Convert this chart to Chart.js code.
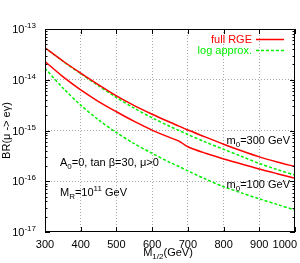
<!DOCTYPE html>
<html>
<head>
<meta charset="utf-8">
<script src="https://cdn.jsdelivr.net/npm/chart.js@4/dist/chart.umd.min.js"></script>
<style>
  html, body { margin: 0; padding: 0; background: #fff; }
  canvas { display: block; }
</style>
</head>
<body>
<canvas id="chart" width="300" height="263"></canvas>
<script>
// x축 값 (M_1/2, GeV)
const mHalf = [300, 350, 400, 450, 500, 550, 600, 650, 675, 700, 750, 800, 850, 900, 950, 1000];

// m0=300 GeV
const full300 = [4.27e-14, 2.34e-14, 1.35e-14, 7.94e-15, 4.79e-15, 3.09e-15, 2.09e-15, 1.45e-15, 1.22e-15, 1.02e-15, 7.41e-16, 5.37e-16, 3.98e-16, 3.02e-16, 2.4e-16, 1.95e-16];
const log300  = [4.27e-14, 2.32e-14, 1.32e-14, 7.59e-15, 4.47e-15, 2.75e-15, 1.78e-15, 1.2e-15, 1.0e-15, 8.32e-16, 5.89e-16, 4.27e-16, 3.09e-16, 2.24e-16, 1.7e-16, 1.32e-16];

// m0=100 GeV
const full100 = [2.29e-14, 1.15e-14, 6.31e-15, 3.72e-15, 2.34e-15, 1.51e-15, 1.02e-15, 7.24e-16, 6.17e-16, 4.79e-16, 3.55e-16, 2.75e-16, 2.19e-16, 1.74e-16, 1.41e-16, 1.15e-16];
const log100  = [1.68e-14, 6.9e-15, 3.16e-15, 1.62e-15, 9.1e-16, 5.5e-16, 3.55e-16, 2.34e-16, 1.95e-16, 1.6e-16, 1.1e-16, 7.8e-17, 5.9e-17, 4.5e-17, 3.5e-17, 2.7e-17];

// 눈금
const xTicks = [300, 400, 500, 600, 700, 800, 900, 1000];
const yTicks = [1e-17, 1e-16, 1e-15, 1e-14, 1e-13];
const yExp = [-17, -16, -15, -14, -13];

const RED = '#ff0000';
const GREEN = '#00f000';
const FONT = 'Liberation Sans, Arial, sans-serif';

const toXY = function(arr) {
    return arr.map(function(v, i) { return {x: mHalf[i], y: v}; });
};

// 첨자 포함 텍스트
const drawRich = function(ctx, parts, x, y, align) {
    let w = 0;
    parts.forEach(function(p) {
        ctx.font = (p.s ? 8 : 11) + 'px ' + FONT;
        p.w = ctx.measureText(p.t).width;
        w += p.w;
    });
    let cx = align === 'right' ? x - w : (align === 'center' ? x - w / 2 : x);
    ctx.textAlign = 'left';
    ctx.textBaseline = 'alphabetic';
    parts.forEach(function(p) {
        ctx.font = (p.s ? 8 : 11) + 'px ' + FONT;
        let dy = p.s === 'sub' ? 3 : (p.s === 'sup' ? -5 : 0);
        ctx.fillText(p.t, cx, y + dy);
        cx += p.w;
    });
    return w;
};

const framePlugin = {
    id: 'frame',
    afterDraw: function(chart) {
        const ctx = chart.ctx;
        const a = chart.chartArea;
        const xs = chart.scales.x;
        const ys = chart.scales.y;
        ctx.save();
        ctx.strokeStyle = '#000';
        ctx.fillStyle = '#000';
        ctx.lineWidth = 1;
        ctx.setLineDash([]);

        // 테두리
        ctx.strokeRect(Math.round(a.left) + 0.5, Math.round(a.top) + 0.5,
            Math.round(a.right - a.left) - 1, Math.round(a.bottom - a.top) - 1);

        // 안쪽 눈금
        ctx.beginPath();
        xTicks.forEach(function(v) {
            const px = Math.round(xs.getPixelForValue(v)) + 0.5;
            ctx.moveTo(px, a.bottom); ctx.lineTo(px, a.bottom - 5);
            ctx.moveTo(px, a.top); ctx.lineTo(px, a.top + 5);
        });
        yExp.forEach(function(e, k) {
            for (let m = 1; m <= 9; m++) {
                if (m > 1 && k === yExp.length - 1) break;
                const py = Math.round(ys.getPixelForValue(m * Math.pow(10, e))) + 0.5;
                const len = m === 1 ? 5 : 2.5;
                ctx.moveTo(a.left, py); ctx.lineTo(a.left + len, py);
                ctx.moveTo(a.right, py); ctx.lineTo(a.right - len, py);
            }
        });
        ctx.stroke();

        // x 눈금 라벨
        ctx.font = '11px ' + FONT;
        ctx.textBaseline = 'alphabetic';
        xTicks.forEach(function(v) {
            const t = String(v);
            const w = ctx.measureText(t).width;
            let px = xs.getPixelForValue(v) - w / 2;
            if (px + w > chart.width - 3) px = chart.width - 3 - w;
            ctx.textAlign = 'left';
            ctx.fillText(t, px, a.bottom + 16);
        });

        // y 눈금 라벨
        yTicks.forEach(function(v, i) {
            const py = ys.getPixelForValue(v);
            drawRich(ctx, [{t: '10'}, {t: String(yExp[i]), s: 'sup'}], 36, py + 4, 'right');
        });

        // 축 제목
        drawRich(ctx, [{t: 'M'}, {t: '1/2', s: 'sub'}, {t: '(GeV)'}], 168, 256, 'center');
        ctx.save();
        ctx.translate(10, (a.top + a.bottom) / 2);
        ctx.rotate(-Math.PI / 2);
        drawRich(ctx, [{t: 'BR(\u03bc -> e\u03b3)'}], 0, 0, 'center');
        ctx.restore();

        // 주석
        drawRich(ctx, [{t: 'A'}, {t: '0', s: 'sub'}, {t: '=0, tan \u03b2=30, \u03bc>0'}], 60, 166, 'left');
        drawRich(ctx, [{t: 'M'}, {t: 'R', s: 'sub'}, {t: '=10'}, {t: '11', s: 'sup'}, {t: ' GeV'}], 60, 196, 'left');
        drawRich(ctx, [{t: 'm'}, {t: '0', s: 'sub'}, {t: '=300 GeV'}], 290, 144, 'right');
        drawRich(ctx, [{t: 'm'}, {t: '0', s: 'sub'}, {t: '=100 GeV'}], 290, 188, 'right');

        // 범례
        ctx.fillStyle = RED;
        drawRich(ctx, [{t: 'full RGE'}], 252, 43, 'right');
        ctx.fillStyle = GREEN;
        drawRich(ctx, [{t: 'log approx.'}], 252, 54, 'right');
        ctx.lineWidth = 1.5;
        ctx.strokeStyle = RED;
        ctx.beginPath(); ctx.moveTo(256, 39.5); ctx.lineTo(284, 39.5); ctx.stroke();
        ctx.strokeStyle = GREEN;
        ctx.setLineDash([3, 2]);
        ctx.beginPath(); ctx.moveTo(256, 50.5); ctx.lineTo(284, 50.5); ctx.stroke();
        ctx.restore();
    }
};

const edgeHidden = function(min, max) {
    return function(c) {
        const v = c.tick ? c.tick.value : null;
        return (v === min || v === max) ? 'rgba(0,0,0,0)' : '#a8a8a8';
    };
};

const lineSet = function(label, arr, color, dashed) {
    return {
        label: label,
        data: toXY(arr),
        borderColor: color,
        borderWidth: 1.5,
        borderDash: dashed ? [3, 2] : [],
        pointRadius: 0,
        fill: false,
        tension: 0.3
    };
};

new Chart(document.getElementById('chart'), {
    type: 'line',
    data: {
        datasets: [
            lineSet('full RGE', full300, RED, false),
            lineSet('full RGE', full100, RED, false),
            lineSet('log approx.', log300, GREEN, true),
            lineSet('log approx.', log100, GREEN, true)
        ]
    },
    options: {
        responsive: false,
        animation: false,
        devicePixelRatio: 1,
        layout: { padding: { top: 29, right: 5, left: 0, bottom: 0 } },
        plugins: { legend: { display: false }, tooltip: { enabled: false } },
        scales: {
            x: {
                type: 'linear',
                min: 300,
                max: 1000,
                afterBuildTicks: function(s) { s.ticks = xTicks.map(function(v) { return {value: v}; }); },
                afterFit: function(s) { s.height = 31; },
                ticks: { display: false },
                grid: { color: edgeHidden(300, 1000), lineWidth: 1, drawTicks: false },
                border: { display: false, dash: [1, 2] }
            },
            y: {
                type: 'logarithmic',
                min: 1e-17,
                max: 1e-13,
                afterBuildTicks: function(s) { s.ticks = yTicks.map(function(v) { return {value: v}; }); },
                afterFit: function(s) { s.width = 45; },
                ticks: { display: false },
                grid: { color: edgeHidden(1e-17, 1e-13), lineWidth: 1, drawTicks: false },
                border: { display: false, dash: [1, 2] }
            }
        }
    },
    plugins: [framePlugin]
});
</script>
</body>
</html>
